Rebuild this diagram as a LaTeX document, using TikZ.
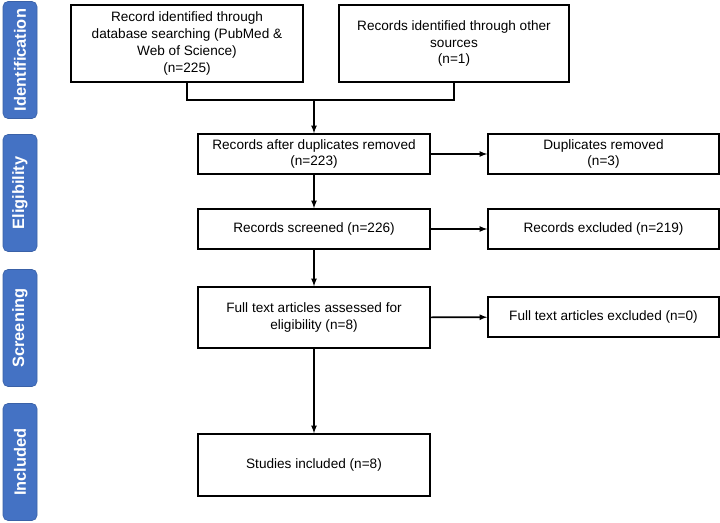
\documentclass[tikz,border=0pt]{standalone}
\usepackage{fontspec}
\setmainfont{Liberation Sans}
\definecolor{phase}{HTML}{4472C4}

\begin{document}
\begin{tikzpicture}[x = 1pt, y = -1pt, >= latex,
    box/.style = {shape = rectangle, draw, line width = 1.6pt, align = center, font = \fontsize{13.6}{16.7}\selectfont, minimum width = 232pt, inner sep = 2pt},
    phasebox/.style = {shape = rectangle, rounded corners = 5pt, fill = phase, draw = phase!85!black, line width = 0.6pt, text = white, font = \fontsize{16.4}{18}\selectfont\bfseries, rotate = 90, minimum height = 34pt, minimum width = 117pt},
    flow/.style = {line width = 1.6pt}]
    \useasboundingbox (0,0) rectangle (720,522);
    % phases
    \node [phasebox] (ident) at (20,60) {Identification};
    \node [phasebox] (elig) at (20,193) {Eligibility};
    \node [phasebox] (screen) at (20,328) {Screening};
    \node [phasebox] (incl) at (20,462) {Included};
    % records
    \node [box, minimum height = 77pt] (db) at (187,43.5) {Record identified through\\database searching (PubMed \&\\Web of Science)\\(n=225)};
    \node [box, minimum height = 77pt, minimum width = 230pt] (other) at (454,43.5) {Records identified through other\\sources\\(n=1)};
    \node [box, minimum height = 40pt] (dedup) at (314,154) {Records after duplicates removed\\(n=223)};
    \node [box, minimum height = 40pt, minimum width = 231pt] (dupl) at (603.5,154) {Duplicates removed\\(n=3)};
    \node [box, minimum height = 40pt] (scr) at (314,229) {Records screened (n=226)};
    \node [box, minimum height = 40pt, minimum width = 231pt] (excl) at (603.5,229) {Records excluded (n=219)};
    \node [box, minimum height = 61pt] (full) at (314,317.5) {Full text articles assessed for\\eligibility (n=8)};
    \node [box, minimum height = 40pt, minimum width = 231pt] (fullex) at (603.5,317) {Full text articles excluded (n=0)};
    \node [box, minimum height = 62pt] (study) at (314,465) {Studies included (n=8)};
    \coordinate (merge) at (314,100);
    % connectors
    \draw [flow] (db.south) |- (merge) -| (other.south);
    \draw [flow, ->] (merge) -- (dedup);
    \draw [flow, ->] (dedup) -- (scr);
    \draw [flow, ->] (scr) -- (full);
    \draw [flow, ->] (full) -- (study);
    \draw [flow, ->] (dedup) -- (dupl);
    \draw [flow, ->] (scr) -- (excl);
    \draw [flow, ->] (full) -- (fullex);
\end{tikzpicture}
\end{document}
